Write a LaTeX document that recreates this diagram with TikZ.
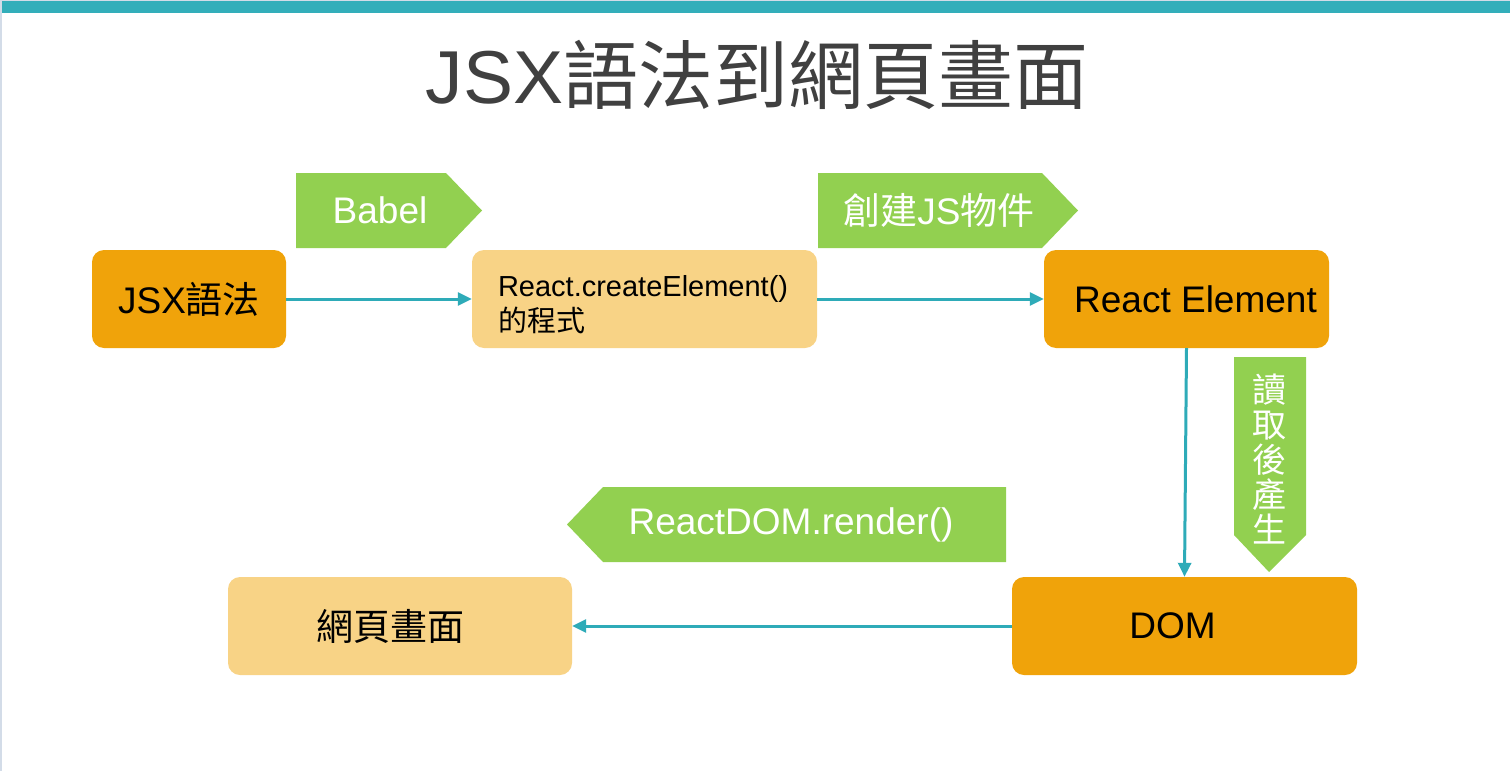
\documentclass[tikz,border=0pt]{standalone}
\usepackage{fontspec}
\setmainfont{Liberation Sans}
\newfontfamily\cjk{Noto Sans CJK TC}
\usetikzlibrary{arrows.meta}

\definecolor{barteal}{HTML}{33AEBA}
\definecolor{linkteal}{HTML}{2EABB8}
\definecolor{edgegray}{HTML}{D3DCE8}
\definecolor{boxdark}{HTML}{F0A30A}
\definecolor{boxlight}{HTML}{F8D386}
\definecolor{taggreen}{HTML}{92D050}
\definecolor{titlegray}{HTML}{404040}

\tikzset{
  darkbox/.style={rectangle,rounded corners=12pt,fill=boxdark,inner sep=0pt,minimum height=98pt,font=\fontsize{37}{44}\selectfont},
  lightbox/.style={rectangle,rounded corners=12pt,fill=boxlight,inner sep=0pt,minimum height=98pt,font=\fontsize{37}{44}\selectfont},
  link/.style={draw=linkteal,line width=3pt,-{Triangle[length=14pt,width=13pt]}},
  tag/.style={fill=taggreen},
  tagtext/.style={text=white,inner sep=0pt,font=\fontsize{37}{44}\selectfont}
}

\begin{document}
\begin{tikzpicture}[x=1pt,y=-1pt]
    \useasboundingbox (0,0) rectangle (1510,771);
    % frame of the slide
    \fill[edgegray] (0,0) rectangle (1510,1);
    \fill[edgegray] (0,0) rectangle (2,771);
    \fill[barteal] (2,1) rectangle (1510,13);
    \node[font=\fontsize{75}{90}\selectfont,text=titlegray,anchor=base,inner sep=0pt] (title) at (757,103) {JSX{\cjk 語法到網頁畫面}};

    % steps
    \node[darkbox,minimum width=194pt] (jsx) at (189,299) {JSX{\cjk 語法}};
    \node[lightbox,minimum width=345pt] (create) at (644.5,299) {};
    \node[inner sep=0pt,text width=293pt,align=left,font=\fontsize{29}{35}\selectfont] (createtext) at (644.5,305) {React.createElement()\\{\cjk 的程式}};
    \node[darkbox,minimum width=285pt] (relem) at (1186.5,299) {\hspace*{18pt}React Element};
    \node[darkbox,minimum width=345pt] (dom) at (1184.5,626) {\hspace*{-24pt}DOM};
    \node[lightbox,minimum width=344pt] (page) at (400,626) {\hspace*{-20pt}{\cjk 網頁畫面}};

    \draw[link] (jsx) -- (create);
    \draw[link] (create) -- (relem);
    \draw[link] (relem.south) -- (dom.north);
    \draw[link] (dom) -- (page);

    % green labels
    \fill[tag] (296,173) -- (446,173) -- (482,210.5) -- (446,248) -- (296,248) -- cycle;
    \node[tagtext] (babel) at (380,210.5) {Babel};
    \fill[tag] (818,173) -- (1042,173) -- (1078,210.5) -- (1042,248) -- (818,248) -- cycle;
    \node[tagtext] (jsobj) at (939,210.5) {{\cjk 創建}JS{\cjk 物件}};
    \fill[tag] (1234,357) -- (1306,357) -- (1306,535) -- (1269,572) -- (1234,535) -- cycle;
    \node[tagtext,align=center,font=\fontsize{34}{35}\selectfont\cjk] (readgen) at (1269,459) {讀\\取\\後\\產\\生};
    \fill[tag] (1006,487) -- (603,487) -- (567,524.5) -- (603,562) -- (1006,562) -- cycle;
    \node[tagtext] (render) at (791,524.5) {ReactDOM.render()};
\end{tikzpicture}
\end{document}
